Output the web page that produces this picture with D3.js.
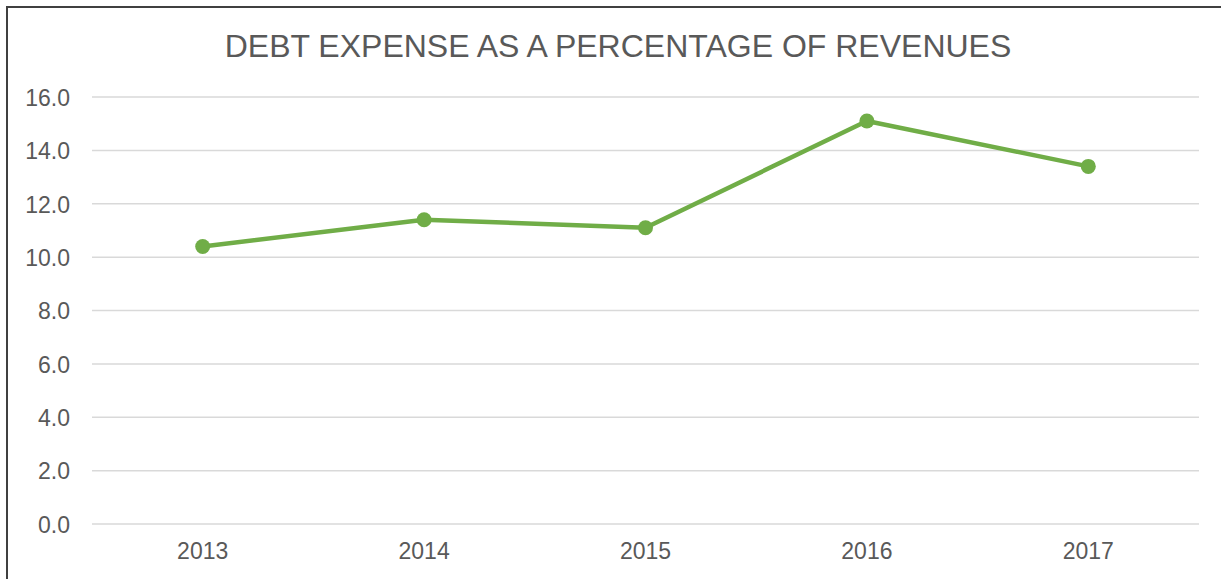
<!DOCTYPE html>
<html>
<head>
<meta charset="utf-8">
<script src="https://cdn.jsdelivr.net/npm/d3@7"></script>
<style>
  body { margin: 0; background: #fff; }
  svg { display: block; font-family: "Liberation Sans", Arial, sans-serif; }
</style>
</head>
<body>
<div id="chart"></div>
<script>
var years = ["2013", "2014", "2015", "2016", "2017"];
var debtPct = [10.4, 11.4, 11.1, 15.1, 13.4];
var yTicks = [0, 2, 4, 6, 8, 10, 12, 14, 16];

var width = 1221, height = 579;
var margin = {left: 92, right: 22, top: 97, bottom: 55};

var svg = d3.select("#chart").append("svg").attr("width", width).attr("height", height);

// chart frame (only top and left edges fall inside the picture)
svg.append("rect").attr("x", 7).attr("y", 7).attr("width", 1240).attr("height", 600)
   .style("fill", "none").style("stroke", "#404040").style("stroke-width", 2);

var x = d3.scaleBand().domain(years).range([margin.left, width - margin.right]);
var y = d3.scaleLinear().domain([0, 16]).range([height - margin.bottom, margin.top]);

// gridlines
svg.append("g").selectAll("line")
   .data(yTicks).enter()
   .append("line")
   .attr("x1", margin.left).attr("x2", width - margin.right)
   .attr("y1", function(d){return y(d)}).attr("y2", function(d){return y(d)})
   .style("stroke", "#d9d9d9").style("stroke-width", 1.5);

// y axis labels
var yAxis = d3.axisLeft(y).tickValues(yTicks).tickFormat(d3.format(".1f")).tickSize(0).tickPadding(22);
var gy = svg.append("g").attr("transform", "translate(" + margin.left + ",0)").call(yAxis);
gy.select(".domain").remove();
gy.selectAll("text").style("font-size", "23px").style("fill", "#595959").attr("dy", "0.36em");

// x axis labels
var xAxis = d3.axisBottom(x).tickSize(0).tickPadding(19);
var gx = svg.append("g").attr("transform", "translate(0," + y(0) + ")").call(xAxis);
gx.select(".domain").remove();
gx.selectAll("text").style("font-size", "23px").style("fill", "#595959");

// line
var line = d3.line()
   .x(function(d, i){return x(years[i]) + x.bandwidth() / 2})
   .y(function(d){return y(d)});

svg.append("path").datum(debtPct).attr("d", line)
   .style("fill", "none").style("stroke", "#70ad47").style("stroke-width", 4.5)
   .style("stroke-linejoin", "round");

svg.append("g").selectAll("circle")
   .data(debtPct).enter()
   .append("circle")
   .attr("cx", function(d, i){return x(years[i]) + x.bandwidth() / 2})
   .attr("cy", function(d){return y(d)})
   .attr("r", 7.5)
   .style("fill", "#70ad47");

// title
svg.append("text").attr("x", 618).attr("y", 57).attr("text-anchor", "middle")
   .style("font-size", "32px").style("fill", "#595959")
   .text("DEBT EXPENSE AS A PERCENTAGE OF REVENUES");
</script>
</body>
</html>
